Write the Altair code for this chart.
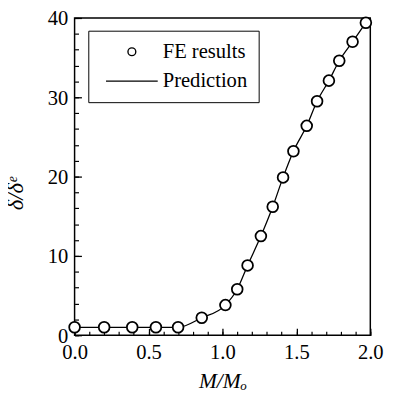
import altair as alt
import pandas as pd

# FE results
fe_x = [0.0, 0.2, 0.39, 0.55, 0.70, 0.86, 1.02, 1.10, 1.17, 1.26, 1.34,
        1.41, 1.48, 1.57, 1.64, 1.72, 1.79, 1.88, 1.97]
fe_y = [1.0, 1.0, 1.0, 1.0, 1.0, 2.2, 3.8, 5.8, 8.8, 12.5, 16.2,
        19.9, 23.2, 26.4, 29.5, 32.1, 34.6, 37.0, 39.4]

# Prediction curve (passes through the FE points)
pred_x = [0.0, 0.2, 0.39, 0.55, 0.70, 0.86, 1.02, 1.10, 1.17, 1.26, 1.34,
          1.41, 1.48, 1.57, 1.64, 1.72, 1.79, 1.88, 1.97]
pred_y = [1.0, 1.0, 1.0, 1.0, 1.0, 2.2, 3.8, 5.8, 8.8, 12.5, 16.2,
          19.9, 23.2, 26.4, 29.5, 32.1, 34.6, 37.0, 39.4]

x_major = [0.0, 0.5, 1.0, 1.5, 2.0]
x_minor = [0.0, 0.1, 0.2, 0.3, 0.4, 0.5, 0.6, 0.7, 0.8, 0.9, 1.0,
           1.1, 1.2, 1.3, 1.4, 1.5, 1.6, 1.7, 1.8, 1.9, 2.0]
y_major = [0, 10, 20, 30, 40]
y_minor = [0, 2, 4, 6, 8, 10, 12, 14, 16, 18, 20,
           22, 24, 26, 28, 30, 32, 34, 36, 38, 40]
legend_labels = ["FE results", "Prediction"]

fe = pd.DataFrame({"x": fe_x, "y": fe_y, "series": legend_labels[0]})
pred = pd.DataFrame({"x": pred_x, "y": pred_y})

FONT = "Liberation Serif"
xscale = alt.Scale(domain=[0, 2], nice=False, zero=False)
yscale = alt.Scale(domain=[0, 40], nice=False)

line = alt.Chart(pred).mark_line(
    color="black", strokeWidth=1.3, interpolate="monotone"
).encode(
    x=alt.X("x:Q", scale=xscale, axis=alt.Axis(
        orient="bottom", values=x_major, format=".1f", tickSize=7, offset=-7,
        domain=False, grid=False, labelFont=FONT, labelFontSize=21,
        labelColor="black", labelPadding=7, tickColor="black", tickWidth=1.3,
        labelFlush=False, title="M/Mₒ", titleFont=FONT, titleFontSize=22,
        titleFontStyle="italic", titleFontWeight="normal", titleColor="black",
        titlePadding=8)),
    y=alt.Y("y:Q", scale=yscale, axis=alt.Axis(
        orient="left", values=y_major, tickSize=7, offset=-7,
        domain=False, grid=False, labelFont=FONT, labelFontSize=21,
        labelColor="black", labelPadding=7, labelOffset=1,
        tickColor="black", tickWidth=1.3,
        labelFlush=False, title="δ/δᵉ", titleFont=FONT, titleFontSize=23,
        titleFontStyle="italic", titleFontWeight="normal", titleColor="black",
        titlePadding=20, titleY=179)),
)

# white discs so the line does not show through the open circles
under = alt.Chart(fe).mark_point(
    filled=True, color="white", size=121, opacity=1
).encode(
    x=alt.X("x:Q", scale=xscale, axis=None),
    y=alt.Y("y:Q", scale=yscale, axis=None),
)

points = alt.Chart(fe).mark_point(
    filled=False, color="black", strokeWidth=1.8, size=121, opacity=1
).encode(
    x=alt.X("x:Q", scale=xscale, axis=alt.Axis(
        orient="bottom", values=x_minor, labels=False, tickSize=4, offset=-4,
        domain=False, grid=False, tickColor="black", tickWidth=1.2, title="")),
    y=alt.Y("y:Q", scale=yscale, axis=alt.Axis(
        orient="left", values=y_minor, labels=False, tickSize=4, offset=-4,
        domain=False, grid=False, tickColor="black", tickWidth=1.2, title="")),
    shape=alt.Shape("series:N", scale=alt.Scale(
        domain=legend_labels, range=["circle", "M-6.6,0L6.6,0"]),
        legend=alt.Legend(
            title="", orient="none", legendX=14, legendY=13,
            strokeColor="black", fillColor="white", padding=11,
            labelFont=FONT, labelFontSize=21, labelColor="black",
            symbolOffset=23, labelOffset=21, symbolSize=64,
            symbolStrokeWidth=1.4, symbolStrokeColor="black",
            rowPadding=8)),
)

chart = alt.layer(line, under, points).resolve_axis(
    x="independent", y="independent"
).properties(
    width=302, height=324,
    autosize=alt.AutoSizeParams(type="none"),
    padding={"left": 68, "top": 6, "right": 15, "bottom": 64},
).configure_view(stroke="black", strokeWidth=1.5)

chart.save("out.html", embed_options={"renderer": "svg", "actions": False})
